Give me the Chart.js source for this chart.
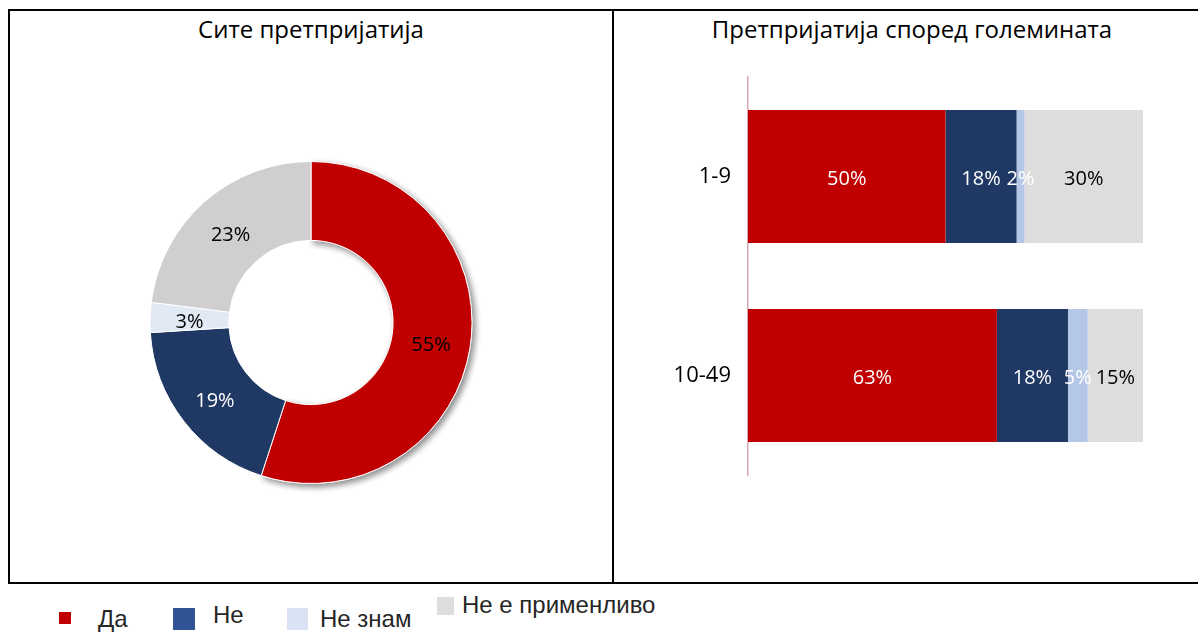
<!DOCTYPE html>
<html>
<head>
<meta charset="utf-8">
<script src="https://cdn.jsdelivr.net/npm/chart.js@4"></script>
<style>
  body { margin: 0; width: 1198px; height: 632px; background: #fff; position: relative; overflow: hidden; font-family: "Open Sans", sans-serif; }
  .line { position: absolute; background: #000; }
  .title { position: absolute; top: 13px; font-size: 24px; line-height: 32px; color: #000; text-align: center; }
  #pie-wrap { position: absolute; left: 10px; top: 11px; }
  #bar-wrap { position: absolute; left: 615px; top: 11px; }
  .leg-box { position: absolute; }
  .leg-text { position: absolute; font-family: "Liberation Sans", Arial, sans-serif; color: #262626; line-height: 24px; white-space: nowrap; }
</style>
</head>
<body>

<div class="line" style="left:8px;top:9px;width:1190px;height:2px"></div>
<div class="line" style="left:8px;top:9px;width:2px;height:574px"></div>
<div class="line" style="left:612px;top:9px;width:2px;height:574px"></div>
<div class="line" style="left:8px;top:582px;width:1190px;height:2px"></div>

<div class="title" style="left:10px;width:602px">Сите претпријатија</div>
<div class="title" style="left:615px;width:594px">Претпријатија според големината</div>

<div id="pie-wrap"><canvas id="pie-chart" width="602" height="570"></canvas></div>
<div id="bar-wrap"><canvas id="bar-chart" width="583" height="570"></canvas></div>

<div id="legend"></div>

<script>
// answers (legend / slice names)
var answers = ['Да', 'Не', 'Не знам', 'Не е применливо'];
// all firms, %
var allFirms = [55, 19, 3, 23];
// firms by size, %
var sizes = ['1-9', '10-49'];
var da = [50, 63];
var ne = [18, 18];
var neZnam = [2, 5];
var nePrimenlivo = [30, 15];

var pieColors = ['#C00000', '#203864', '#E1E9F5', '#D0CECE'];
var pieTextColors = ['#000', '#fff', '#000', '#000'];
var barColors = ['#C00000', '#203864', '#B4C7E7', '#DDDDDD'];
var barTextColors = ['#fff', '#fff', '#fff', '#000'];
var legendColors = ['#C00000', '#2F5597', '#DAE3F3', '#DDDDDD'];

const redShadow = {
    id: 'redShadow',
    beforeDatasetsDraw(chart) {
        const arc = chart.getDatasetMeta(0).data[0];
        const ctx = chart.ctx;
        ctx.save();
        ctx.shadowColor = 'rgba(0,0,0,0.45)';
        ctx.shadowBlur = 6;
        ctx.shadowOffsetX = 3;
        ctx.shadowOffsetY = 3;
        arc.draw(ctx);
        ctx.restore();
    }
};

const pieLabels = {
    id: 'pieLabels',
    afterDatasetsDraw(chart) {
        const ctx = chart.ctx;
        ctx.save();
        ctx.font = '20px "Open Sans"';
        ctx.textAlign = 'center';
        ctx.textBaseline = 'middle';
        chart.getDatasetMeta(0).data.forEach(function (arc, i) {
            const p = arc.tooltipPosition();
            ctx.fillStyle = pieTextColors[i];
            ctx.fillText(allFirms[i] + '%', p.x, p.y + 4);
        });
        ctx.restore();
    }
};

const barLabels = {
    id: 'barLabels',
    afterDatasetsDraw(chart) {
        const ctx = chart.ctx;
        const area = chart.chartArea;
        ctx.save();
        ctx.font = '20px "Open Sans"';
        ctx.textAlign = 'center';
        ctx.textBaseline = 'middle';
        chart.data.datasets.forEach(function (ds, d) {
            chart.getDatasetMeta(d).data.forEach(function (bar, i) {
                const right = Math.min(bar.x, area.right);
                ctx.fillStyle = barTextColors[d];
                ctx.fillText(ds.data[i] + '%', (bar.base + right) / 2, bar.y + 3);
            });
        });
        ctx.restore();
    }
};

const ctxPie = document.getElementById('pie-chart');
const pieChart = new Chart(ctxPie, {
    type: 'doughnut',
    data: {
        labels: answers,
        datasets: [{
            data: allFirms,
            backgroundColor: pieColors,
            borderColor: '#fff',
            borderWidth: 1
        }]
    },
    options: {
        responsive: false,
        animation: false,
        cutout: '51%',
        layout: { padding: { top: 150, bottom: 97 } },
        plugins: { legend: { display: false }, tooltip: { enabled: false } }
    },
    plugins: [redShadow, pieLabels]
});

const ctxBar = document.getElementById('bar-chart');
const barChart = new Chart(ctxBar, {
    type: 'bar',
    data: {
        labels: sizes,
        datasets: [
            { label: answers[0], data: da, backgroundColor: barColors[0] },
            { label: answers[1], data: ne, backgroundColor: barColors[1] },
            { label: answers[2], data: neZnam, backgroundColor: barColors[2] },
            { label: answers[3], data: nePrimenlivo, backgroundColor: barColors[3] }
        ]
    },
    options: {
        indexAxis: 'y',
        responsive: false,
        animation: false,
        layout: { padding: { top: 66, bottom: 106, right: 55 } },
        datasets: { bar: { barPercentage: 0.668, categoryPercentage: 1 } },
        scales: {
            x: { stacked: true, display: false, min: 0, max: 100 },
            y: {
                stacked: true,
                grid: { display: false, drawTicks: false },
                border: { color: '#D9A3BE', width: 1.5 },
                ticks: { color: '#000', font: { size: 22, family: 'Open Sans' }, padding: 17 },
                afterFit: function (s) { s.width = 133; }
            }
        },
        plugins: { legend: { display: false }, tooltip: { enabled: false } }
    },
    plugins: [barLabels]
});

// legend, laid out like the picture
var legendBoxes = [[59, 612, 12, 12], [173, 608, 22, 22], [287, 608, 21, 22], [437, 597, 17, 18]];
var legendText = [[98, 607, 24], [213, 603, 24], [320, 607, 24], [462, 593, 24]];
var legend = document.getElementById('legend');
answers.forEach(function (name, i) {
    var b = document.createElement('div');
    b.className = 'leg-box';
    b.style.cssText = 'left:' + legendBoxes[i][0] + 'px;top:' + legendBoxes[i][1] + 'px;width:' + legendBoxes[i][2] + 'px;height:' + legendBoxes[i][3] + 'px;background:' + legendColors[i];
    legend.appendChild(b);
    var t = document.createElement('div');
    t.className = 'leg-text';
    t.style.cssText = 'left:' + legendText[i][0] + 'px;top:' + legendText[i][1] + 'px;font-size:' + legendText[i][2] + 'px';
    t.textContent = name;
    legend.appendChild(t);
});
</script>
</body>
</html>
